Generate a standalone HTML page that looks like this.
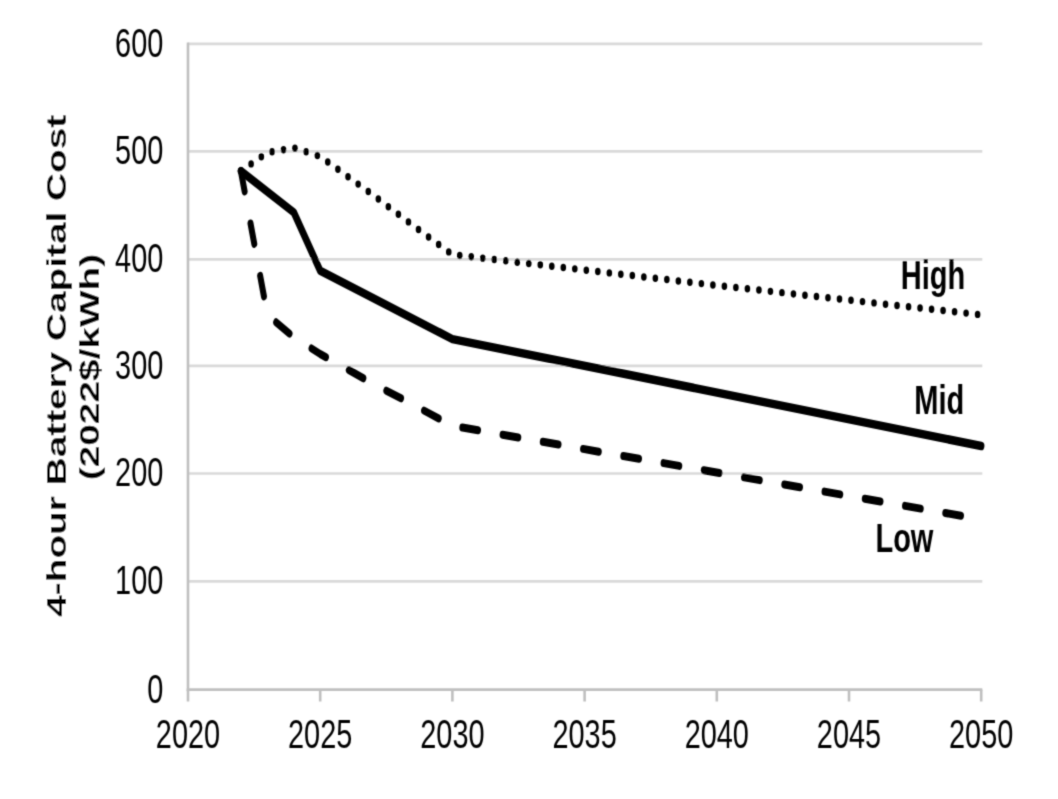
<!DOCTYPE html>
<html><head><meta charset="utf-8">
<style>
html,body{margin:0;padding:0;background:#fff;}
body{width:1058px;height:799px;overflow:hidden;}
svg{display:block;filter:grayscale(1);}
text{font-family:"Liberation Sans",sans-serif;fill:#000;}
</style></head><body>
<svg width="1058" height="799" viewBox="0 0 1058 799">
<defs><filter id="soft" filterUnits="userSpaceOnUse" x="0" y="0" width="1058" height="799"><feConvolveMatrix order="3" kernelMatrix="0.02768 0.11101 0.02768 0.11101 0.44521 0.11101 0.02768 0.11101 0.02768" edgeMode="duplicate"/></filter></defs>
<rect x="0" y="0" width="1058" height="799" fill="#fff"/>
<g filter="url(#soft)">
<line x1="188" y1="581.40" x2="982.3" y2="581.40" stroke="#d9d9d9" stroke-width="2.7"/>
<line x1="188" y1="473.50" x2="982.3" y2="473.50" stroke="#d9d9d9" stroke-width="2.7"/>
<line x1="188" y1="365.90" x2="982.3" y2="365.90" stroke="#d9d9d9" stroke-width="2.7"/>
<line x1="188" y1="259.40" x2="982.3" y2="259.40" stroke="#d9d9d9" stroke-width="2.7"/>
<line x1="188" y1="151.40" x2="982.3" y2="151.40" stroke="#d9d9d9" stroke-width="2.7"/>
<line x1="188" y1="43.80" x2="982.3" y2="43.80" stroke="#d9d9d9" stroke-width="2.7"/>
<line x1="188" y1="42.5" x2="188" y2="691.00" stroke="#bfbfbf" stroke-width="2.6"/>
<line x1="186.7" y1="689.70" x2="982.3" y2="689.70" stroke="#bfbfbf" stroke-width="2.7"/>
<line x1="188.00" y1="689.70" x2="188.00" y2="701.5" stroke="#bfbfbf" stroke-width="2.6"/>
<line x1="320.20" y1="689.70" x2="320.20" y2="701.5" stroke="#bfbfbf" stroke-width="2.6"/>
<line x1="452.40" y1="689.70" x2="452.40" y2="701.5" stroke="#bfbfbf" stroke-width="2.6"/>
<line x1="584.60" y1="689.70" x2="584.60" y2="701.5" stroke="#bfbfbf" stroke-width="2.6"/>
<line x1="716.80" y1="689.70" x2="716.80" y2="701.5" stroke="#bfbfbf" stroke-width="2.6"/>
<line x1="849.00" y1="689.70" x2="849.00" y2="701.5" stroke="#bfbfbf" stroke-width="2.6"/>
<line x1="981.20" y1="689.70" x2="981.20" y2="701.5" stroke="#bfbfbf" stroke-width="2.6"/>

<g font-size="41">
<text transform="translate(163.3,702.60) scale(0.705,1)" text-anchor="end">0</text>
<text transform="translate(163.3,594.30) scale(0.705,1)" text-anchor="end">100</text>
<text transform="translate(163.3,486.40) scale(0.705,1)" text-anchor="end">200</text>
<text transform="translate(163.3,378.80) scale(0.705,1)" text-anchor="end">300</text>
<text transform="translate(163.3,272.30) scale(0.705,1)" text-anchor="end">400</text>
<text transform="translate(163.3,164.30) scale(0.705,1)" text-anchor="end">500</text>
<text transform="translate(163.3,56.70) scale(0.705,1)" text-anchor="end">600</text>
<text transform="translate(188.00,747.9) scale(0.705,1)" text-anchor="middle">2020</text>
<text transform="translate(320.20,747.9) scale(0.705,1)" text-anchor="middle">2025</text>
<text transform="translate(452.40,747.9) scale(0.705,1)" text-anchor="middle">2030</text>
<text transform="translate(584.60,747.9) scale(0.705,1)" text-anchor="middle">2035</text>
<text transform="translate(716.80,747.9) scale(0.705,1)" text-anchor="middle">2040</text>
<text transform="translate(849.00,747.9) scale(0.705,1)" text-anchor="middle">2045</text>
<text transform="translate(981.20,747.9) scale(0.705,1)" text-anchor="middle">2050</text>
</g>
<rect x="36" y="100" width="76" height="530" fill="#fff"/>
<g font-size="27.5" font-weight="bold">
<text transform="translate(66,365.75) rotate(-90) scale(1.41,1)" text-anchor="middle">4-hour Battery Capital Cost</text>
<text transform="translate(99,367.05) rotate(-90) scale(1.412,1)" text-anchor="middle">(2022$/kWh)</text>
</g>
<g transform="scale(1,1.33)" fill="none" stroke="#000" stroke-linecap="round" stroke-linejoin="round">
<polyline points="240.88,128.571 267.32,114.737 293.76,111.128 320.20,117.594 346.64,132.105 373.08,146.617 399.52,161.805 425.96,176.692 452.40,191.429 716.80,214.586 981.20,236.692" stroke-width="5.6" stroke-dasharray="0 11.55"/>
<polyline points="240.88,128.571 267.32,236.692 293.76,253.534 320.20,266.165 346.64,277.293 373.08,288.571 399.52,298.872 425.96,309.474 452.40,320.150 981.20,390.451" stroke-width="6" stroke-dasharray="15.8 24.8"/>
<polyline points="240.88,128.571 293.76,159.624 320.20,203.534 452.40,254.962 981.20,335.338" stroke-width="6.4"/>
</g>
<g font-size="41" font-weight="bold">
<text transform="translate(900.8,289.3) scale(0.708,1)">High</text>
<text transform="translate(914.3,413.5) scale(0.708,1)">Mid</text>
<text transform="translate(875.4,552) scale(0.708,1)">Low</text>
</g>
</g>
</svg>
</body></html>
